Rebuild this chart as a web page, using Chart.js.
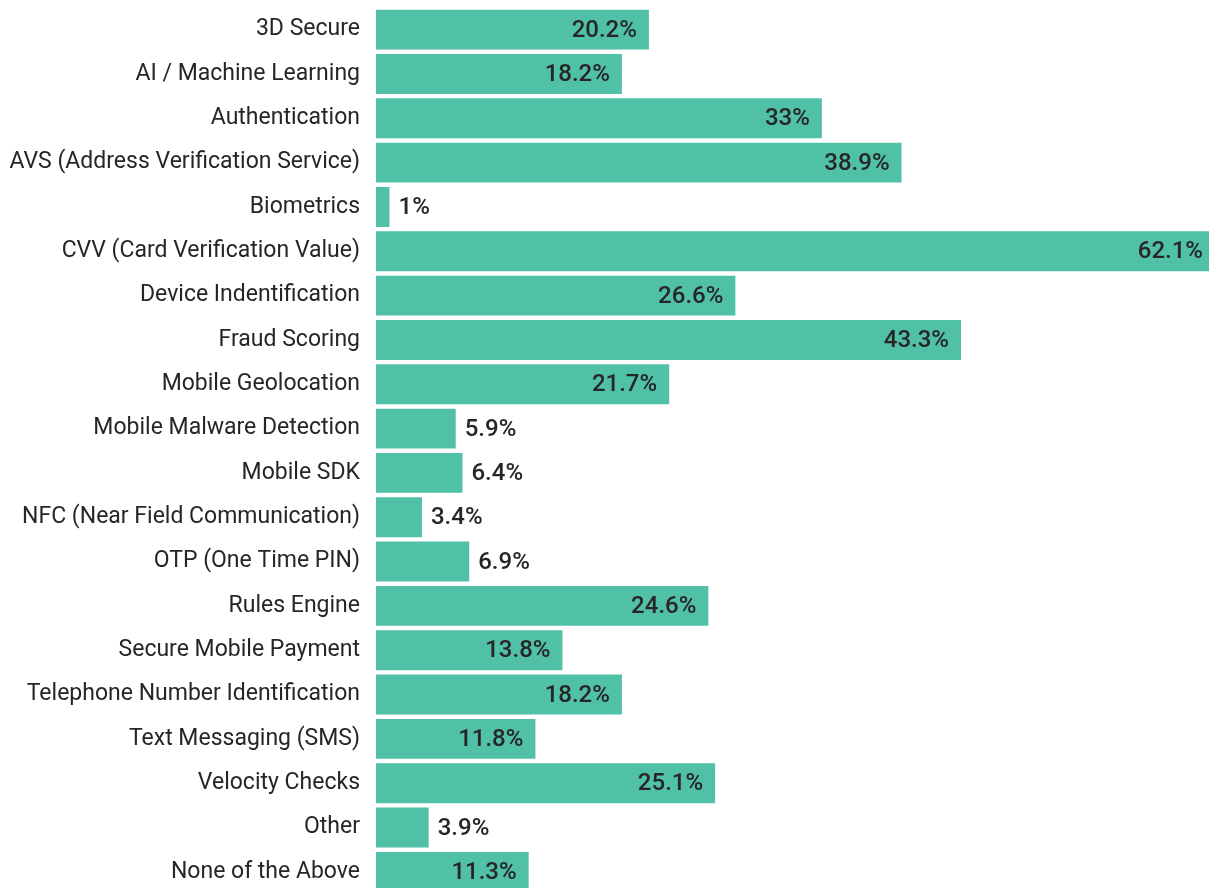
<!DOCTYPE html>
<html>
<head>
<meta charset="utf-8">
<title>Fraud prevention tools in use</title>
<script src="https://cdn.jsdelivr.net/npm/chart.js@4/dist/chart.umd.min.js"></script>
<style>
    html, body { margin: 0; padding: 0; background: #fff; overflow: hidden; }
    #wrap { position: absolute; left: 0; top: 0; width: 1215px; height: 894px; }
</style>
</head>
<body>
<div id="wrap"><canvas id="tools-chart"></canvas></div>
<script>
const categories = [
    '3D Secure',
    'AI / Machine Learning',
    'Authentication',
    'AVS (Address Verification Service)',
    'Biometrics',
    'CVV (Card Verification Value)',
    'Device Indentification',
    'Fraud Scoring',
    'Mobile Geolocation',
    'Mobile Malware Detection',
    'Mobile SDK',
    'NFC (Near Field Communication)',
    'OTP (One Time PIN)',
    'Rules Engine',
    'Secure Mobile Payment',
    'Telephone Number Identification',
    'Text Messaging (SMS)',
    'Velocity Checks',
    'Other',
    'None of the Above'
];
const shares = [20.2, 18.2, 33, 38.9, 1, 62.1, 26.6, 43.3, 21.7, 5.9, 6.4, 3.4, 6.9, 24.6, 13.8, 18.2, 11.8, 25.1, 3.9, 11.3];

const barColor = '#50c1a6';
const textColor = '#262626';
const fontFamily = 'Roboto, "Noto Sans", sans-serif';

// values get printed at the end of each bar: inside when there is room, else just outside
const valueLabels = {
    id: 'valueLabels',
    afterDatasetsDraw(chart) {
        const ctx = chart.ctx;
        const meta = chart.getDatasetMeta(0);
        ctx.save();
        ctx.font = '500 24px ' + fontFamily;
        ctx.fillStyle = textColor;
        ctx.textBaseline = 'middle';
        meta.data.forEach((bar, i) => {
            const txt = shares[i] + '%';
            const w = ctx.measureText(txt).width;
            const len = bar.x - bar.base;
            if (len > w + 48) {
                ctx.textAlign = 'right';
                ctx.fillText(txt, bar.x - 12, bar.y + 1);
            } else {
                ctx.textAlign = 'left';
                ctx.fillText(txt, bar.x + 9, bar.y + 1);
            }
        });
        ctx.restore();
    }
};

new Chart(document.getElementById('tools-chart'), {
    type: 'bar',
    data: {
        labels: categories,
        datasets: [{
            data: shares,
            backgroundColor: barColor,
            borderWidth: 0,
            barPercentage: 0.9,
            categoryPercentage: 1
        }]
    },
    options: {
        indexAxis: 'y',
        responsive: true,
        maintainAspectRatio: false,
        animation: false,
        layout: { padding: { top: 7.5, right: 0, bottom: 0, left: 0 } },
        plugins: {
            legend: { display: false },
            tooltip: { enabled: false }
        },
        scales: {
            x: {
                display: false,
                min: 0,
                max: 62.1
            },
            y: {
                afterFit(scale) {
                    // fixed label column, and no extra room above/below the rows
                    scale.width = 376;
                    scale.paddingTop = 0;
                    scale.paddingBottom = 0;
                },
                grid: { display: false, drawTicks: false },
                border: { display: false },
                ticks: {
                    padding: 16,
                    color: textColor,
                    font: { family: fontFamily, size: 23 }
                }
            }
        }
    },
    plugins: [valueLabels]
});
</script>
</body>
</html>
